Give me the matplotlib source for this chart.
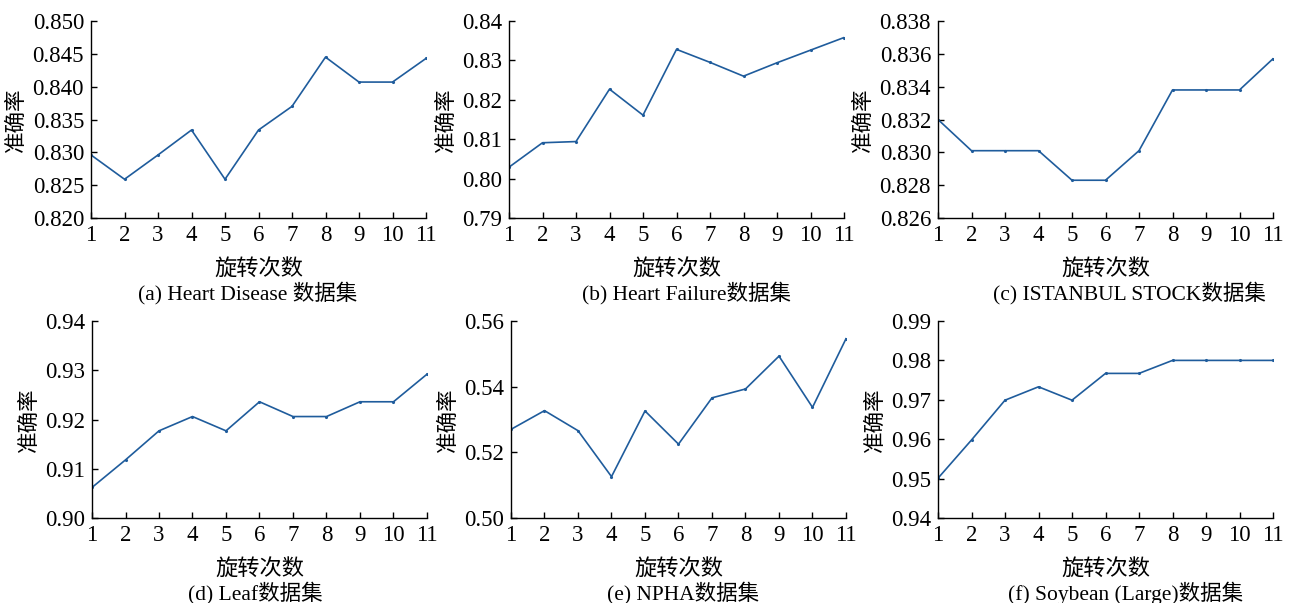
import numpy as np
import matplotlib
matplotlib.use('Agg')
import matplotlib.pyplot as plt

plt.rcParams['font.family'] = ['Liberation Serif', 'Noto Sans CJK SC']
plt.rcParams['axes.unicode_minus'] = False

# rotation counts
x = np.arange(1, 12)

heart_disease = [0.8296, 0.8259, 0.8296, 0.8334, 0.8259, 0.8334, 0.8370, 0.8445, 0.8407, 0.8407, 0.8443]
heart_failure = [0.8029, 0.8091, 0.8094, 0.8227, 0.8161, 0.8328, 0.8295, 0.8260, 0.8294, 0.8326, 0.8358]
istanbul = [0.8320, 0.8301, 0.8301, 0.8301, 0.8283, 0.8283, 0.8301, 0.8338, 0.8338, 0.8338, 0.8357]
leaf = [0.9062, 0.9118, 0.9177, 0.9206, 0.9177, 0.9236, 0.9206, 0.9206, 0.9236, 0.9236, 0.9292]
npha = [0.5270, 0.5327, 0.5266, 0.5126, 0.5326, 0.5225, 0.5366, 0.5393, 0.5493, 0.5337, 0.5546]
soybean = [0.9501, 0.9598, 0.9699, 0.9733, 0.9699, 0.9767, 0.9767, 0.9800, 0.9800, 0.9800, 0.9800]

series = [heart_disease, heart_failure, istanbul, leaf, npha, soybean]
captions = ['(a) Heart Disease 数据集', '(b) Heart Failure数据集', '(c) ISTANBUL STOCK数据集',
            '(d) Leaf数据集', '(e) NPHA数据集', '(f) Soybean (Large)数据集']
yticks = [[0.820, 0.825, 0.830, 0.835, 0.840, 0.845, 0.850],
          [0.79, 0.80, 0.81, 0.82, 0.83, 0.84],
          [0.826, 0.828, 0.830, 0.832, 0.834, 0.836, 0.838],
          [0.90, 0.91, 0.92, 0.93, 0.94],
          [0.50, 0.52, 0.54, 0.56],
          [0.94, 0.95, 0.96, 0.97, 0.98, 0.99]]
yfmt = ['%.3f', '%.2f', '%.3f', '%.2f', '%.2f', '%.2f']

W, H = 1296, 603
fig = plt.figure(figsize=(W/100, H/100), dpi=100)

# axes boxes in pixels: left, top, right, bottom
boxes = [(91, 21, 426, 218), (509, 21, 844, 218), (938, 21, 1273, 218),
         (92, 321, 427, 518), (511, 321, 846, 518), (938, 321, 1273, 518)]
cap_x = [248, 686, 1129, 255, 683, 1126]
cap_y = [293, 293, 293, 593, 593, 593]

for i in range(6):
    l, t, r, b = boxes[i]
    ax = fig.add_axes([l/W, 1-b/H, (r-l)/W, (b-t)/H])
    ax.plot(x, series[i], color='#1f5c9c', lw=1.2, marker='.', ms=2.5)
    ax.set_xlim(1, 11)
    ax.set_ylim(yticks[i][0], yticks[i][-1])
    ax.set_xticks(x)
    ax.set_yticks(yticks[i])
    ax.set_yticklabels([yfmt[i] % v for v in yticks[i]])
    ax.spines['top'].set_visible(False)
    ax.spines['right'].set_visible(False)
    for s in ['left', 'bottom']:
        ax.spines[s].set_linewidth(1.0)
    ax.tick_params(direction='in', length=4, width=1.0, labelsize=16.5, pad=5)
    ax.set_xlabel('旋转次数', fontsize=16, labelpad=9)
    ax.set_ylabel('准确率', fontsize=15.5, labelpad=4)
    fig.text(cap_x[i]/W, 1-cap_y[i]/H, captions[i], fontsize=15.5, ha='center', va='center')

plt.savefig('out.png', dpi=100)
